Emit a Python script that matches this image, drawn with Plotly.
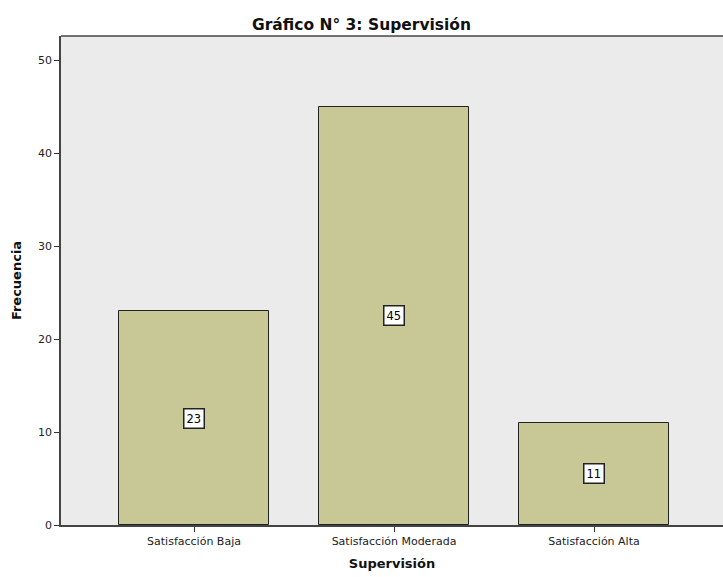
import plotly.graph_objects as go

categories = ["Satisfacción Baja", "Satisfacción Moderada", "Satisfacción Alta"]
values = [23, 45, 11]
y_ticks = [0, 10, 20, 30, 40, 50]

FONT = "DejaVu Sans, Liberation Sans, Arial"

fig = go.Figure()
fig.add_trace(go.Bar(
    x=list(range(len(categories))), y=values, width=0.75,
    marker=dict(color="#c8c896", line=dict(color="#222222", width=1)),
    hoverinfo="skip",
))

for i, v in enumerate(values):
    fig.add_annotation(
        x=i, y=v / 2, text=str(v), showarrow=False,
        font=dict(family=FONT, size=11.5, color="#000"),
        bgcolor="white", bordercolor="#222", borderwidth=1.5, borderpad=2,
    )

fig.update_layout(
    width=723, height=577,
    margin=dict(l=61, r=0, t=36, b=52),
    paper_bgcolor="white", plot_bgcolor="#ebebeb",
    showlegend=False,
    bargap=0,
    font=dict(family=FONT, size=11, color="#222"),
    title=dict(text="<b>Gráfico N° 3: Supervisión</b>", x=0.5, xanchor="center",
               y=1 - 25 / 577, yanchor="middle",
               font=dict(family=FONT, size=15.5, color="#111")),
)
fig.update_xaxes(
    range=[-0.665, 2.645], tickvals=list(range(len(categories))), ticktext=categories,
    ticks="outside", ticklen=5, tickcolor="#333", showgrid=False, zeroline=False,
    showline=True, linecolor="#444", linewidth=1.5, mirror=False,
    title=dict(text="<b>Supervisión</b>", font=dict(family=FONT, size=13, color="#111"), standoff=12),
    tickfont=dict(family=FONT, size=11, color="#222"),
)
fig.update_yaxes(
    range=[0, 52.6], tickvals=y_ticks,
    ticks="outside", ticklen=5, tickcolor="#333", showgrid=False, zeroline=False,
    showline=True, linecolor="#444", linewidth=1.5,
    title=dict(text="<b>Frecuencia</b>", font=dict(family=FONT, size=13, color="#111"), standoff=13),
    tickfont=dict(family=FONT, size=11, color="#222"),
)
# top border
fig.add_shape(type="line", xref="paper", yref="paper", x0=0, x1=1, y0=1, y1=1,
              line=dict(color="#444", width=1.5))

fig.write_html("out.html", config={"displayModeBar": False},
               post_script="document.body.style.margin='0';")
